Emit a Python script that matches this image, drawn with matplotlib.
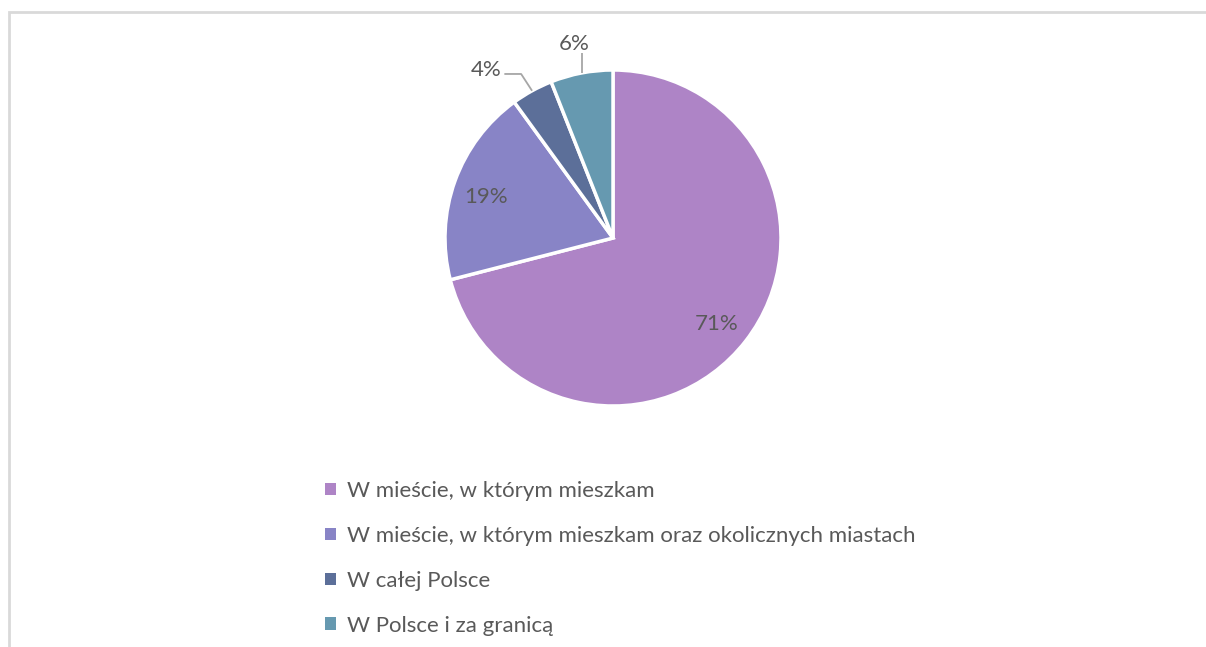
import numpy as np
import matplotlib.pyplot as plt
from matplotlib.patches import Rectangle, Patch

categories = [
    "W mieście, w którym mieszkam",
    "W mieście, w którym mieszkam oraz okolicznych miastach",
    "W całej Polsce",
    "W Polsce i za granicą",
]
shares = [71, 19, 4, 6]
labels = ["71%", "19%", "4%", "6%"]
colors = ["#AE84C6", "#8884C6", "#5C6F99", "#6699B0"]

plt.rcParams['font.family'] = ['Lato', 'DejaVu Sans']
W, H = 1206, 647
fig = plt.figure(figsize=(W / 100, H / 100), dpi=100)

# light grey chart frame (open at the right and bottom)
fig.add_artist(Rectangle((8.5 / W, -0.05), 1.1, (H - 11.5) / H + 0.05,
                         transform=fig.transFigure, fill=False,
                         edgecolor="#D9D9D9", linewidth=2))

# pie centred at (613, 238) px, radius 168 px
cx, cy, R = 613, 238, 168
half = 200
ax = fig.add_axes([(cx - half) / W, (H - cy - half) / H, 2 * half / W, 2 * half / H])
wedges, _ = ax.pie(shares, colors=colors, startangle=90, counterclock=False,
                   radius=1.0, wedgeprops=dict(edgecolor="white", linewidth=2.5))
lim = half / R
ax.set_xlim(-lim, lim)
ax.set_ylim(-lim, lim)
ax.set_aspect("equal")
ax.axis("off")

txt = dict(fontsize=16, color="#595959", ha="center", va="center")
line = dict(color="#A6A6A6", lw=1.3, clip_on=False, solid_capstyle="butt")
for i, w in enumerate(wedges):
    mid = np.deg2rad((w.theta1 + w.theta2) / 2)
    x, y = np.cos(mid), np.sin(mid)
    if shares[i] >= 10:
        ax.text(0.79 * x - 0.01, 0.79 * y - 0.025, labels[i], **txt)
    elif i == 2:
        # elbow leader: diagonal from wedge edge, then horizontal to label
        ex, ey = x - 0.065, y + 0.1
        ax.plot([x, ex, ex - 0.1], [y, ey, ey], **line)
        ax.text(ex - 0.21, ey + 0.025, labels[i], **txt)
    else:
        ax.plot([x, x], [y, y + 0.12], **line)
        ax.text(x - 0.045, y + 0.175, labels[i], **txt)

handles = [Patch(facecolor=c, edgecolor="none") for c in colors]
fig.legend(handles, categories, loc="upper left",
           bbox_to_anchor=(305 / W, 1 - 461 / H), frameon=False,
           fontsize=16, labelcolor="#595959", handlelength=0.5,
           handleheight=0.5, handletextpad=0.5, labelspacing=1.12)

fig.savefig("out.png", dpi=100)
